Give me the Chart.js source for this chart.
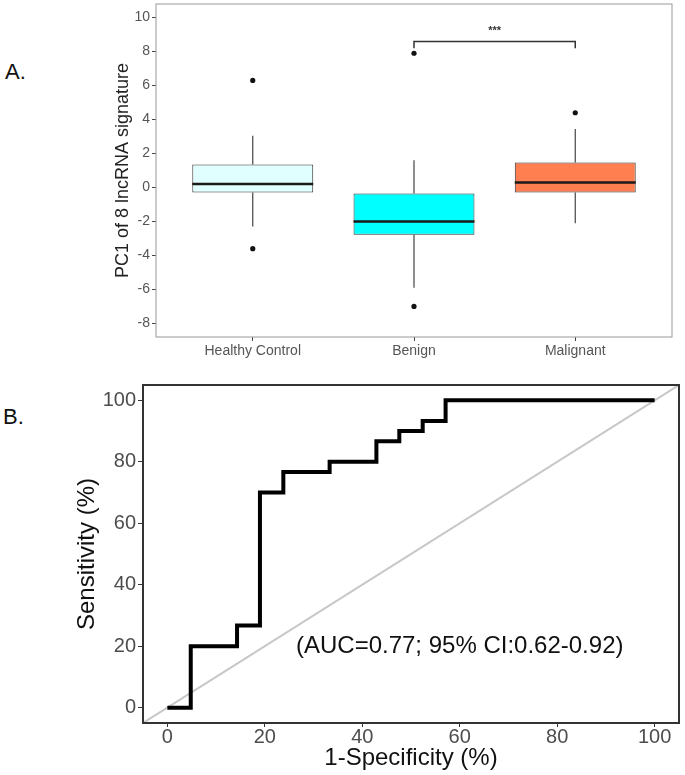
<!DOCTYPE html>
<html>
<head>
<meta charset="utf-8">
<script src="https://cdn.jsdelivr.net/npm/chart.js"></script>
<style>
  body { margin: 0; background: #fff; }
  .panel { position: absolute; left: 0; }
  .tag { position: absolute; font: 22px Arial, "Liberation Sans", sans-serif; color: #111; }
</style>
</head>
<body>
<div class="tag" style="left:5px; top:59px;">A.</div>
<div class="tag" style="left:3px; top:404px;">B.</div>
<div class="panel" style="top:0;"><canvas id="boxChart" width="685" height="365"></canvas></div>
<div class="panel" style="top:365px;"><canvas id="rocChart" width="685" height="410"></canvas></div>
<script>
// --- panel A: PC1 boxplots ---
const groups = ['Healthy Control', 'Benign', 'Malignant'];
const groupPos = [1, 2, 3];
const q1 = [-0.3, -2.78, -0.3];
const median = [0.2, -2.0, 0.3];
const q3 = [1.35, -0.35, 1.47];
const whiskerLow = [-2.3, -5.9, -2.1];
const whiskerHigh = [3.05, 1.6, 3.45];
const outliers = [[6.3, -3.6], [7.9, -7.0], [4.4]];
const pcTicks = [-8, -6, -4, -2, 0, 2, 4, 6, 8, 10];
const sigGroups = [2, 3];
const sigLevels = [8.2, 8.6];
const sigLabel = '***';
const sigLabelY = 9.2;

// --- panel B: ROC ---
const fpr = [0, 4.8, 14.3, 19.0, 23.8, 33.3, 42.9, 47.6, 52.4, 57.1, 100];
const sensitivity = [0, 20, 26.7, 70, 76.7, 80, 86.7, 90, 93.3, 100, 100];
const chanceLine = [-5, 105];
const rocTicks = [0, 20, 40, 60, 80, 100];
const aucText = '(AUC=0.77; 95% CI:0.62-0.92)';

const FONT = 'Arial, "Liberation Sans", sans-serif';
const boxColors = ['#e0ffff', '#00ffff', '#ff7f50'];
const halfBox = 0.375;

Chart.defaults.font.family = FONT;
Chart.defaults.animation = false;
Chart.defaults.plugins.legend.display = false;
Chart.defaults.plugins.tooltip.enabled = false;

function frame(color, width) {
    return {
        id: 'frame',
        afterDraw(chart) {
            const a = chart.chartArea, ctx = chart.ctx;
            ctx.save();
            ctx.strokeStyle = color;
            ctx.lineWidth = width;
            ctx.strokeRect(a.left, a.top, a.right - a.left, a.bottom - a.top);
            ctx.restore();
        }
    };
}

// no extra room for half tick labels, the layout padding decides
function noLabelPadding(s) {
    s.paddingTop = 0;
    s.paddingBottom = 0;
    s.paddingLeft = 0;
    s.paddingRight = 0;
}

// whiskers as one line dataset broken by gaps
const whiskerPts = [];
groupPos.forEach((x, i) => {
    whiskerPts.push({x, y: q3[i]}, {x, y: whiskerHigh[i]}, {x, y: null});
    whiskerPts.push({x, y: q1[i]}, {x, y: whiskerLow[i]}, {x, y: null});
});
const medianPts = [];
groupPos.forEach((x, i) => {
    medianPts.push({x: x - halfBox, y: median[i]}, {x: x + halfBox, y: median[i]}, {x, y: null});
});
const outlierPts = [];
groupPos.forEach((x, i) => outliers[i].forEach(y => outlierPts.push({x, y})));
const bracketPts = [
    {x: sigGroups[0], y: sigLevels[0]}, {x: sigGroups[0], y: sigLevels[1]},
    {x: sigGroups[1], y: sigLevels[1]}, {x: sigGroups[1], y: sigLevels[0]}
];

const sigText = {
    id: 'sigText',
    afterDatasetsDraw(chart) {
        const ctx = chart.ctx;
        const x = chart.scales.x.getPixelForValue((sigGroups[0] + sigGroups[1]) / 2);
        const y = chart.scales.y.getPixelForValue(sigLabelY);
        ctx.save();
        ctx.fillStyle = '#333';
        ctx.font = 'bold 11px ' + FONT;
        ctx.textAlign = 'center';
        ctx.textBaseline = 'middle';
        ctx.fillText(sigLabel, x, y);
        ctx.restore();
    }
};

new Chart(document.getElementById('boxChart'), {
    type: 'bar',
    data: {
        datasets: [
            {
                type: 'line',
                data: medianPts,
                borderColor: '#1a1a1a',
                borderWidth: 2.5,
                pointRadius: 0,
                spanGaps: false,
                borderCapStyle: 'butt'
            },
            {
                type: 'line',
                data: bracketPts,
                borderColor: '#333',
                borderWidth: 1.5,
                pointRadius: 0
            },
            {
                type: 'scatter',
                data: outlierPts,
                pointRadius: 2.6,
                backgroundColor: '#111',
                borderWidth: 0
            },
            {
                type: 'bar',
                data: groupPos.map((x, i) => ({x, y: [q1[i], q3[i]]})),
                backgroundColor: boxColors,
                borderColor: '#333',
                borderWidth: 1,
                borderSkipped: false,
                categoryPercentage: 1,
                barPercentage: 0.75
            },
            {
                type: 'line',
                data: whiskerPts,
                borderColor: '#444',
                borderWidth: 1.2,
                pointRadius: 0,
                spanGaps: false
            }
        ]
    },
    options: {
        responsive: false,
        layout: { padding: { top: 3, right: 13, left: 0, bottom: 0 } },
        scales: {
            x: {
                type: 'linear',
                min: 0.4,
                max: 3.6,
                offset: false,
                afterBuildTicks: s => { s.ticks = groupPos.map(v => ({value: v})); },
                afterFit: s => { s.height = 28; noLabelPadding(s); },
                grid: { drawOnChartArea: false, offset: false, tickLength: 4, color: '#444' },
                border: { display: false },
                ticks: {
                    callback: (v, i) => groups[i],
                    color: '#555',
                    font: { size: 14 },
                    padding: 2,
                    maxRotation: 0
                }
            },
            y: {
                min: -8.8,
                max: 10.8,
                afterBuildTicks: s => { s.ticks = pcTicks.map(v => ({value: v})); },
                afterFit: s => { s.width = 156; noLabelPadding(s); },
                grid: { drawOnChartArea: false, tickLength: 4, color: '#444' },
                border: { display: false },
                ticks: { color: '#555', font: { size: 14 }, padding: 2 },
                title: {
                    display: true,
                    text: 'PC1 of 8 lncRNA signature',
                    color: '#222',
                    font: { size: 18 },
                    padding: { top: 112, bottom: 0 }
                }
            }
        }
    },
    plugins: [frame('#999', 1), sigText]
});

const aucLabel = {
    id: 'aucLabel',
    afterDatasetsDraw(chart) {
        const ctx = chart.ctx;
        ctx.save();
        ctx.fillStyle = '#111';
        ctx.font = '24px ' + FONT;
        ctx.textAlign = 'center';
        ctx.textBaseline = 'middle';
        ctx.fillText(aucText, chart.scales.x.getPixelForValue(60), chart.scales.y.getPixelForValue(20));
        ctx.restore();
    }
};

new Chart(document.getElementById('rocChart'), {
    type: 'scatter',
    data: {
        datasets: [
            {
                data: fpr.map((x, i) => ({x, y: sensitivity[i]})),
                showLine: true,
                stepped: 'before',
                borderColor: '#000',
                borderWidth: 4,
                pointRadius: 0,
                borderJoinStyle: 'miter',
                borderCapStyle: 'butt'
            },
            {
                data: chanceLine.map(v => ({x: v, y: v})),
                showLine: true,
                borderColor: '#c8c8c8',
                borderWidth: 2,
                pointRadius: 0
            }
        ]
    },
    options: {
        responsive: false,
        layout: { padding: { top: 20, right: 6, left: 0, bottom: 0 } },
        scales: {
            x: {
                min: -5,
                max: 105,
                afterBuildTicks: s => { s.ticks = rocTicks.map(v => ({value: v})); },
                afterFit: s => { s.height = 52; noLabelPadding(s); },
                grid: { drawOnChartArea: false, tickLength: 4, color: '#333' },
                border: { display: false },
                ticks: { color: '#4d4d4d', font: { size: 20 }, padding: -2, maxRotation: 0 },
                title: {
                    display: true,
                    text: '1-Specificity (%)',
                    color: '#111',
                    font: { size: 24 },
                    padding: { top: 0, bottom: 2 }
                }
            },
            y: {
                min: -5,
                max: 105,
                afterBuildTicks: s => { s.ticks = rocTicks.map(v => ({value: v})); },
                afterFit: s => { s.width = 143; noLabelPadding(s); },
                grid: { drawOnChartArea: false, tickLength: 5, color: '#333' },
                border: { display: false },
                ticks: { color: '#4d4d4d', font: { size: 20 }, padding: 2 },
                title: {
                    display: true,
                    text: 'Sensitivity (%)',
                    color: '#111',
                    font: { size: 24 },
                    padding: { top: 73, bottom: 0 }
                }
            }
        }
    },
    plugins: [frame('#333', 2), aucLabel]
});
</script>
</body>
</html>
